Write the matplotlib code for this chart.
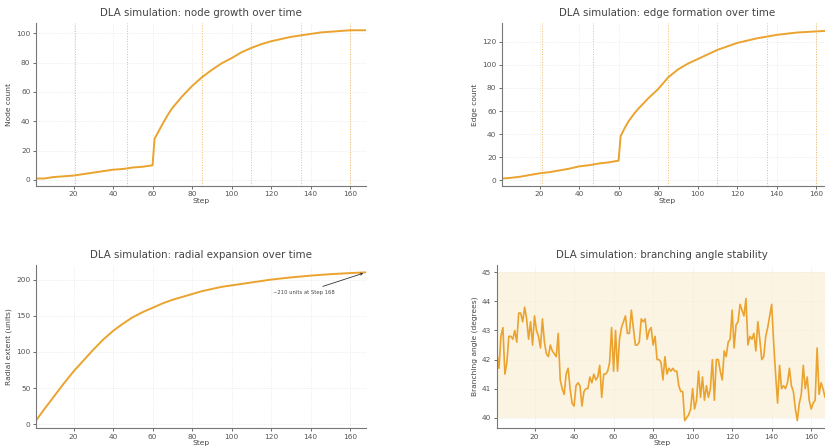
import numpy as np
import matplotlib.pyplot as plt

# node / edge counts read at selected steps
growth_steps = [1, 5, 10, 15, 20, 25, 30, 35, 40, 45, 50, 55, 60, 61, 63, 65, 68, 70, 75, 80,
                85, 90, 95, 100, 105, 110, 115, 120, 125, 130, 135, 140, 145, 150, 155, 160, 165, 168]
node_count = [1, 1, 2, 2.5, 3, 4, 5, 6, 7, 7.5, 8.5, 9, 10, 28, 33, 38, 45, 49, 57, 64,
              70, 75, 79.5, 83, 87, 90, 92.5, 94.5, 96, 97.5, 98.5, 99.5, 100.5, 101, 101.5, 102, 102, 102]
edge_count = [1.5, 2, 3, 4.5, 6, 7, 8.5, 10, 12, 13, 14.5, 15.5, 17, 38, 45, 51, 58, 62, 71, 79,
              89, 96, 101, 105, 109, 113, 116, 119, 121, 123, 124.5, 126, 127, 128, 128.5, 129, 129.5, 130]
event_steps = [21, 47, 85, 110, 135, 160]

radial_steps = [1, 5, 10, 15, 20, 25, 30, 35, 40, 45, 50, 55, 60, 65, 70, 75, 80, 85, 90, 95,
                100, 110, 120, 130, 140, 150, 160, 168]
radial_extent = [5, 20, 38, 56, 73, 88, 103, 117, 129, 139, 148, 155, 161, 167, 172, 176, 180, 184, 187, 190,
                 192, 196, 200, 203, 205.5, 207.5, 209, 210]

angle_steps = list(range(1, 169))
branch_angle = [
    42.2, 41.7, 42.8, 43.1, 41.5, 41.9, 42.8, 42.8, 42.7, 43.0,
    42.6, 43.6, 43.6, 43.3, 43.8, 43.4, 42.7, 43.3, 42.5, 43.5,
    43.0, 42.8, 42.4, 43.4, 42.6, 42.2, 42.1, 42.5, 42.3, 42.2,
    42.1, 42.9, 41.3, 41.0, 40.8, 41.5, 41.7, 41.0, 40.5, 40.4,
    41.1, 41.2, 41.1, 40.4, 40.9, 41.0, 41.0, 41.4, 41.2, 41.5,
    41.3, 41.4, 41.8, 40.7, 41.5, 41.5, 41.6, 41.9, 43.1, 41.6,
    43.0, 41.6, 42.7, 43.1, 43.3, 43.5, 42.9, 42.9, 43.7, 43.1,
    42.5, 42.5, 42.6, 43.4, 43.3, 43.4, 42.7, 43.0, 43.1, 42.5,
    42.8, 42.0, 42.0, 41.9, 41.3, 42.1, 41.5, 41.7, 41.6, 41.7,
    41.6, 41.6, 41.1, 40.9, 40.9, 39.9, 40.0, 40.1, 40.3, 41.0,
    40.3, 40.6, 41.6, 40.7, 41.4, 40.6, 41.1, 40.7, 41.0, 42.0,
    40.6, 42.0, 42.0, 41.6, 41.3, 42.3, 42.1, 42.6, 42.7, 43.7,
    42.4, 43.2, 43.3, 43.9, 43.7, 43.5, 44.1, 42.5, 42.8, 42.7,
    42.9, 42.3, 43.3, 42.7, 42.0, 42.1, 42.8, 43.1, 43.5, 43.9,
    42.6, 41.5, 40.5, 41.8, 41.0, 41.1, 41.0, 41.2, 41.7, 41.1,
    40.9, 40.3, 39.9, 40.5, 40.8, 41.8, 41.0, 41.4, 40.6, 40.3,
    40.5, 40.6, 42.4, 40.8, 41.2, 41.0, 40.7, 41.1,
]

line_color = '#EBA32F'
text_color = '#444444'

plt.rcParams['font.family'] = 'DejaVu Sans'
plt.rcParams['text.color'] = text_color
plt.rcParams['axes.labelcolor'] = text_color
plt.rcParams['xtick.color'] = '#555555'
plt.rcParams['ytick.color'] = '#555555'
plt.rcParams['xtick.labelsize'] = 5.3
plt.rcParams['ytick.labelsize'] = 5.3
plt.rcParams['xtick.major.size'] = 2
plt.rcParams['ytick.major.size'] = 2

fig = plt.figure(figsize=(8.25, 4.48), dpi=100)
ax1 = fig.add_axes([0.0436, 0.585, 0.40, 0.364])
ax2 = fig.add_axes([0.6085, 0.585, 0.40, 0.364])
ax3 = fig.add_axes([0.0436, 0.0446, 0.40, 0.364])
ax4 = fig.add_axes([0.6024, 0.0446, 0.40, 0.364])


def style(ax, title, ylabel):
    ax.set_title(title, fontsize=7.4, color=text_color, pad=5)
    ax.set_xlabel('Step', fontsize=5.4, labelpad=0.5)
    ax.set_ylabel(ylabel, fontsize=5.4, labelpad=3)
    ax.grid(True, color='#e6e6e6', linestyle=':', linewidth=0.6)
    ax.set_axisbelow(True)
    for s in ['top', 'right']:
        ax.spines[s].set_visible(False)
    for s in ['left', 'bottom']:
        ax.spines[s].set_color('#777777')
        ax.spines[s].set_linewidth(0.8)
    ax.tick_params(pad=2, width=0.6)


# node growth
ax1.plot(growth_steps, node_count, color=line_color, linewidth=1.4)
for e in event_steps:
    ax1.axvline(e, color=line_color, linestyle=':', linewidth=0.7, alpha=0.75)
ax1.set_xlim(1, 168)
style(ax1, 'DLA simulation: node growth over time', 'Node count')

# edge formation
ax2.plot(growth_steps, edge_count, color=line_color, linewidth=1.4)
for e in event_steps:
    ax2.axvline(e, color=line_color, linestyle=':', linewidth=0.7, alpha=0.75)
ax2.set_xlim(1, 168)
style(ax2, 'DLA simulation: edge formation over time', 'Edge count')

# radial expansion
ax3.plot(radial_steps, radial_extent, color=line_color, linewidth=1.4)
ax3.set_xlim(1, 168)
ax3.annotate('~210 units at Step 168', xy=(radial_steps[-1], radial_extent[-1]),
             xytext=(121, 180), fontsize=3.8, color=text_color,
             arrowprops=dict(arrowstyle='->', color='#333333', lw=0.6))
style(ax3, 'DLA simulation: radial expansion over time', 'Radial extent (units)')

# branching angle
ax4.axhspan(40, 45, color='#FBEBCB', alpha=0.55, linewidth=0)
ax4.plot(angle_steps, branch_angle, color=line_color, linewidth=1.2)
ax4.set_xlim(1, 168)
style(ax4, 'DLA simulation: branching angle stability', 'Branching angle (degrees)')

fig.savefig('out.png', dpi=100)
